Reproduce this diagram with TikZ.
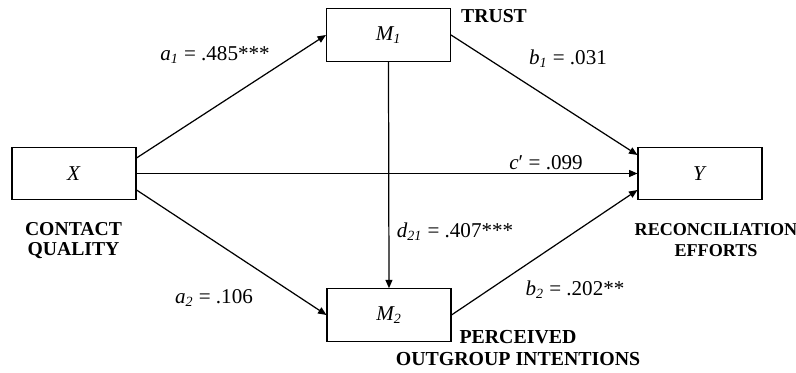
\documentclass[tikz,border=0pt]{standalone}
\usepackage{fontspec}
\setmainfont{Liberation Serif}
\usetikzlibrary{arrows.meta}
\begin{document}
\begin{tikzpicture}[every node/.style={font=\fontsize{12}{14}\selectfont},
    var/.style={draw, line width=0.6pt, minimum width=2.48cm, minimum height=1.05cm, inner sep=0pt},
    effect/.style={-{Triangle[length=4.8pt,width=4pt]}, line width=0.7pt},
    capt/.style={font=\fontsize{11.2}{11.8}\selectfont\bfseries, align=center}]
    \useasboundingbox (0,0) rectangle (15.92,7.46);
    \node[var] (X) at (1.48,3.99) {\textit{X}};
    \node[var] (M1) at (7.77,6.76) {\textit{M\textsubscript{1}}};
    \node[var] (M2) at (7.78,1.16) {\textit{M\textsubscript{2}}};
    \node[var] (Y) at (14.0,3.99) {\textit{Y}};
    \draw[effect] ([yshift=0.31cm]X.east) -- (M1.west);
    \draw[effect] (X.east) -- (Y.west);
    \draw[effect] ([yshift=-0.33cm]X.east) -- (M2.west);
    \draw[effect] (M1.east) -- ([yshift=0.37cm]Y.west);
    \draw[effect] (M2.east) -- ([yshift=-0.33cm]Y.west);
    \draw[effect] (M1.south) -- (M2.north);
    \node (a1) at (4.30,6.36) {\textit{a\textsubscript{1}} = .485***};
    \node (b1) at (11.36,6.28) {\textit{b\textsubscript{1}} = .031};
    \node (cp) at (10.92,4.20) {\textit{c}′ = .099};
    \node (d21) at (9.10,2.82) {\textit{d\textsubscript{21}} = .407***};
    \node (a2) at (4.28,1.50) {\textit{a\textsubscript{2}} = .106};
    \node (b2) at (11.50,1.66) {\textit{b\textsubscript{2}} = .202**};
    \node[capt, anchor=west] (trust) at (9.10,7.13) {TRUST};
    \node[capt] (contact) at (1.47,2.65) {CONTACT\\QUALITY};
    \node[capt, font=\fontsize{10.3}{11.8}\selectfont\bfseries] (recon) at (14.32,2.66) {RECONCILIATION\\EFFORTS};
    \node[capt, font=\fontsize{11.3}{12.4}\selectfont\bfseries] (percv) at (10.36,0.50) {PERCEIVED\\OUTGROUP INTENTIONS};
\end{tikzpicture}
\end{document}
